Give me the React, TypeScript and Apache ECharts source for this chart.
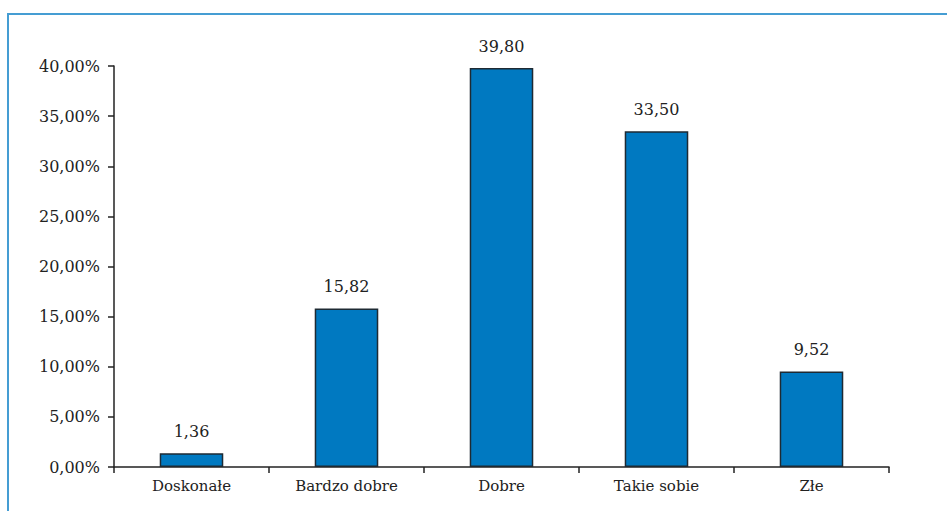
import React, { useEffect, useRef } from "react";
import * as echarts from "echarts";

const categories = ["Doskonałe", "Bardzo dobre", "Dobre", "Takie sobie", "Złe"];
const values = [1.36, 15.82, 39.8, 33.5, 9.52];
const yTicks = [0, 5, 10, 15, 20, 25, 30, 35, 40];

const fmt = (v: number, d: number) => v.toFixed(d).replace(".", ",");

export default function App() {
  const ref = useRef<HTMLDivElement>(null);
  useEffect(() => {
    if (!ref.current) return;
    const chart = echarts.init(ref.current, undefined, { renderer: "svg" });
    const font = "DejaVu Serif";
    chart.setOption({
      animation: false,
      backgroundColor: "#ffffff",
      textStyle: { fontFamily: font },
      grid: { left: 114, right: 58, top: 66, bottom: 44, containLabel: false },
      graphic: [
        {
          type: "line",
          shape: { x1: 7, y1: 14, x2: 947, y2: 14 },
          style: { stroke: "#459dd3", lineWidth: 2 },
        },
        {
          type: "line",
          shape: { x1: 8, y1: 14, x2: 8, y2: 511 },
          style: { stroke: "#459dd3", lineWidth: 2 },
        },
      ],
      xAxis: {
        type: "category",
        data: categories,
        axisLine: { lineStyle: { color: "#222", width: 1.5 } },
        axisTick: { show: true, length: 6, lineStyle: { color: "#222", width: 1.5 }, alignWithLabel: false },
        axisLabel: { color: "#222", fontSize: 15, fontFamily: font, margin: 11 },
      },
      yAxis: {
        type: "value",
        min: yTicks[0],
        max: yTicks[yTicks.length - 1],
        interval: 5,
        splitLine: { show: false },
        axisLine: { show: true, lineStyle: { color: "#222", width: 1.5 } },
        axisTick: { show: true, length: 6, lineStyle: { color: "#222", width: 1.5 } },
        axisLabel: {
          color: "#222",
          fontSize: 16,
          fontFamily: font,
          margin: 14,
          formatter: (v: number) => fmt(v, 2) + "%",
        },
      },
      series: [
        {
          type: "bar",
          data: values,
          barWidth: "41%",
          itemStyle: { color: "#0079c1", borderColor: "#1e2a33", borderWidth: 1.5 },
          label: {
            show: true,
            position: "top",
            distance: 14,
            color: "#222",
            fontSize: 16,
            fontFamily: font,
            formatter: (p: any) => fmt(p.value, 2),
          },
        },
      ],
    });
    return () => chart.dispose();
  }, []);
  return (
    <div
      ref={ref}
      style={{ position: "fixed", left: 0, top: 0, width: 947, height: 511 }}
    />
  );
}
